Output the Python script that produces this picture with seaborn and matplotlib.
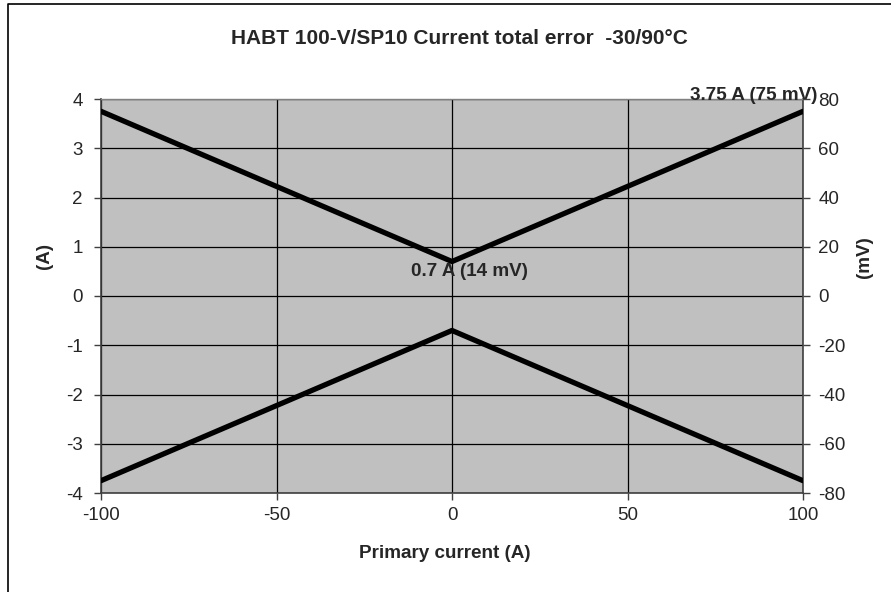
import matplotlib
matplotlib.use("Agg")
import matplotlib.pyplot as plt
from matplotlib.lines import Line2D
import pandas as pd
import seaborn as sns

# data
primary_current = [-100, 0, 100]
upper_error = [3.75, 0.7, 3.75]
lower_error = [-3.75, -0.7, -3.75]
x_ticks = [-100, -50, 0, 50, 100]
y_ticks = [-4, -3, -2, -1, 0, 1, 2, 3, 4]
mv_ticks = [-80, -60, -40, -20, 0, 20, 40, 60, 80]

df = pd.DataFrame({
    "current": primary_current * 2,
    "error": upper_error + lower_error,
    "side": ["upper"] * 3 + ["lower"] * 3,
})

sns.set_style("white")
plt.rcParams["font.family"] = ["Liberation Sans", "DejaVu Sans"]
plt.rcParams["axes.unicode_minus"] = False

W, H = 891, 592
fig = plt.figure(figsize=(W / 100, H / 100), dpi=100)
ax = fig.add_axes([101 / W, 1 - 493 / H, (803 - 101) / W, (493 - 99) / H])
ax.set_facecolor("#c0c0c0")

sns.lineplot(data=df, x="current", y="error", units="side", estimator=None,
             color="black", linewidth=3.8, ax=ax, legend=False, zorder=3)

ax.set_xlim(-100, 100)
ax.set_ylim(-4, 4)
ax.set_xticks(x_ticks)
ax.set_yticks(y_ticks)
ax.grid(True, color="black", linewidth=0.9)
ax.set_axisbelow(True)
for s in ["left", "bottom", "right"]:
    ax.spines[s].set_color("#404040")
    ax.spines[s].set_linewidth(1.2)
ax.spines["top"].set_color("#808080")
ax.spines["top"].set_linewidth(1.0)

ax.tick_params(axis="both", direction="out", length=5, width=1, color="#404040",
               labelsize=13.5)
ax.tick_params(axis="y", left=True, pad=8)
ax.tick_params(axis="x", bottom=True, pad=5)

ax2 = ax.twinx()
ax2.set_ylim(-80, 80)
ax2.set_yticks(mv_ticks)
ax2.tick_params(axis="y", direction="out", length=5, width=1, color="#404040",
                labelsize=13.5, pad=6)
for s in ax2.spines.values():
    s.set_visible(False)

ax.set_xlabel("")
ax.set_ylabel("")
fig.text(445 / W, 1 - 553 / H, "Primary current (A)", ha="center", va="center",
         fontsize=13.6, fontweight="bold")
fig.text(45 / W, 1 - 256 / H, "(A)", ha="center", va="center", rotation=90,
         fontsize=13.6, fontweight="bold")
fig.text(865 / W, 1 - 257 / H, "(mV)", ha="center", va="center", rotation=90,
         fontsize=13.6, fontweight="bold")
fig.text(459 / W, 1 - 38 / H, "HABT 100-V/SP10 Current total error  -30/90°C",
         ha="center", va="center", fontsize=15, fontweight="bold")

ax.annotate("0.7 A (14 mV)", xy=(469 / W, 1 - 271 / H), xycoords="figure fraction",
            ha="center", va="center", fontsize=13.6, fontweight="bold", zorder=5)
ax.annotate("3.75 A (75 mV)", xy=(818 / W, 1 - 96 / H), xycoords="figure fraction",
            ha="right", va="center", fontsize=13.6, fontweight="bold",
            annotation_clip=False)

# outer chart frame (left and top edges)
fig.add_artist(Line2D([8 / W, 8 / W, 1], [0, 1 - 4 / H, 1 - 4 / H],
                      transform=fig.transFigure, color="black", linewidth=1.2))

fig.savefig("out.png", dpi=100)
